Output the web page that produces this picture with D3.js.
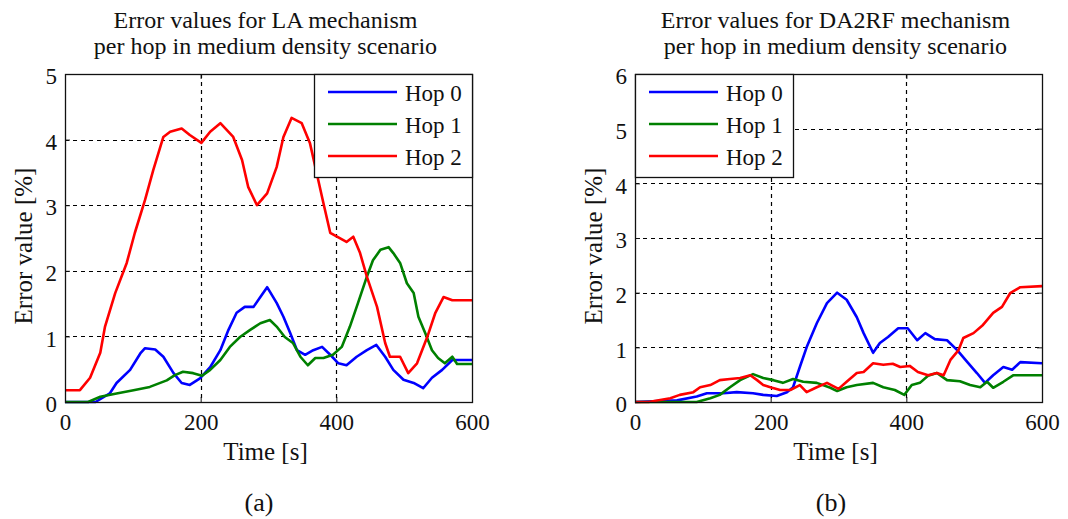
<!DOCTYPE html>
<html>
<head>
<meta charset="utf-8">
<script src="https://cdn.jsdelivr.net/npm/d3@7"></script>
<style>
  html, body { margin: 0; padding: 0; background: #fff; }
  svg { display: block; }
  text { font-family: "Liberation Serif", "Times New Roman", serif; fill: #111; }
</style>
</head>
<body>
<svg id="chart" width="1068" height="519"></svg>
<script>
// ---------- Data ----------
const xTicks = [0, 200, 400, 600];
const seriesNames = ["Hop 0", "Hop 1", "Hop 2"];
const seriesColors = ["#0000ff", "#008000", "#ff0000"];

// Panel (a): LA mechanism
const laTitle = ["Error values for LA mechanism", "per hop in medium density scenario"];
const laYTicks = [0, 1, 2, 3, 4, 5];
const laHop0T = [0,45,66,76,96,111,118,133,145,160,172,184,199,214,229,241,253,265,278,288,298,312,322,332,342,354,366,379,391,403,415,430,445,459,472,484,499,514,528,541,556,571,600];
const laHop0V = [0,0,0.13,0.29,0.49,0.74,0.82,0.8,0.69,0.44,0.29,0.26,0.36,0.53,0.79,1.1,1.36,1.45,1.45,1.6,1.75,1.51,1.3,1.05,0.79,0.72,0.79,0.84,0.72,0.59,0.56,0.69,0.79,0.87,0.69,0.49,0.34,0.29,0.21,0.37,0.49,0.64,0.64];
const laHop1T = [0,34,52,76,101,125,150,162,174,189,202,214,229,243,258,273,288,302,312,324,336,347,358,369,381,395,408,420,432,445,454,465,477,484,494,504,514,521,531,541,550,560,571,578,600];
const laHop1V = [0,0,0.08,0.13,0.18,0.23,0.33,0.41,0.46,0.44,0.4,0.49,0.64,0.84,0.99,1.1,1.2,1.25,1.15,0.99,0.9,0.69,0.56,0.67,0.67,0.72,0.84,1.15,1.51,1.91,2.16,2.32,2.36,2.27,2.12,1.81,1.66,1.3,1.05,0.79,0.67,0.59,0.69,0.58,0.58];
const laHop2T = [0,22,37,52,59,74,91,103,118,130,145,155,172,184,201,214,229,248,261,270,283,298,312,322,334,349,361,371,381,391,401,415,425,435,445,460,472,479,494,506,519,534,546,558,571,600];
const laHop2V = [0.18,0.18,0.37,0.75,1.15,1.66,2.12,2.58,3.08,3.53,4.04,4.12,4.17,4.07,3.95,4.12,4.25,4.04,3.69,3.28,3.0,3.18,3.58,4.04,4.33,4.25,3.95,3.49,3.03,2.58,2.52,2.44,2.52,2.27,1.91,1.45,0.9,0.69,0.69,0.44,0.59,0.99,1.36,1.6,1.55,1.55];

// Panel (b): DA2RF mechanism
const daTitle = ["Error values for DA2RF mechanism", "per hop in medium density scenario"];
const daYTicks = [0, 1, 2, 3, 4, 5, 6];
const daHop0T = [0,62,91,106,130,150,174,189,209,224,233,243,253,268,283,298,312,327,337,351,361,373,388,402,416,428,442,460,475,490,504,516,528,543,556,568,600];
const daHop0V = [0,0.03,0.1,0.16,0.16,0.18,0.16,0.13,0.11,0.18,0.27,0.64,1.0,1.44,1.81,2.0,1.87,1.55,1.26,0.9,1.08,1.19,1.35,1.35,1.13,1.26,1.15,1.13,0.95,0.73,0.53,0.35,0.49,0.64,0.59,0.73,0.71];
const daHop1T = [0,91,111,125,140,155,174,189,204,218,233,248,268,288,298,312,327,351,366,383,397,408,420,432,445,460,479,494,509,519,528,543,558,600];
const daHop1V = [0,0,0.07,0.13,0.27,0.4,0.51,0.44,0.4,0.35,0.42,0.37,0.35,0.26,0.2,0.27,0.31,0.35,0.27,0.22,0.13,0.31,0.35,0.48,0.53,0.4,0.38,0.31,0.27,0.37,0.26,0.37,0.49,0.49];
const daHop2T = [0,20,52,66,86,96,111,125,140,155,170,180,189,202,214,229,243,253,268,283,300,312,327,337,351,366,380,391,405,417,432,445,455,465,477,484,499,513,528,541,553,568,600];
const daHop2V = [0,0,0.07,0.13,0.18,0.27,0.31,0.4,0.42,0.44,0.49,0.4,0.31,0.26,0.22,0.22,0.31,0.18,0.27,0.35,0.24,0.37,0.53,0.55,0.71,0.68,0.7,0.64,0.66,0.55,0.49,0.53,0.49,0.77,0.95,1.17,1.26,1.41,1.63,1.74,1.99,2.1,2.12];

const xLabel = "Time [s]";
const yLabel = "Error value [%]";

// ---------- Drawing ----------
const svg = d3.select("#chart");
const FONT = "'Liberation Serif', 'Times New Roman', serif";

function zip(t, v) { return t.map((d, i) => ({ t: d, v: v[i] })); }

const panels = [
  { left: 65, right: 472, top: 74, bottom: 402, title: laTitle, yTicks: laYTicks,
    series: [zip(laHop0T, laHop0V), zip(laHop1T, laHop1V), zip(laHop2T, laHop2V)],
    legend: "right", yLabelX: 23, caption: "(a)", captionX: 259 },
  { left: 635, right: 1042, top: 74, bottom: 402, title: daTitle, yTicks: daYTicks,
    series: [zip(daHop0T, daHop0V), zip(daHop1T, daHop1V), zip(daHop2T, daHop2V)],
    legend: "left", yLabelX: 593, caption: "(b)", captionX: 831 }
];

panels.forEach(p => {
  const x = d3.scaleLinear().domain([0, 600]).range([p.left, p.right]);
  const yMax = p.yTicks[p.yTicks.length - 1];
  const y = d3.scaleLinear().domain([0, yMax]).range([p.bottom, p.top]);
  const g = svg.append("g");

  // grid
  const grid = g.append("g").attr("stroke", "#000").attr("stroke-width", 1.2)
    .attr("stroke-dasharray", "4,4");
  grid.selectAll("line.h").data(p.yTicks.slice(1, -1)).join("line")
    .attr("x1", p.left).attr("x2", p.right)
    .attr("y1", d => Math.round(y(d)) + 0.5).attr("y2", d => Math.round(y(d)) + 0.5);
  grid.selectAll("line.v").data(xTicks.slice(1, -1)).join("line")
    .attr("y1", p.top).attr("y2", p.bottom)
    .attr("x1", d => Math.round(x(d)) + 0.5).attr("x2", d => Math.round(x(d)) + 0.5);

  // axes (inward ticks)
  const ax = g.append("g").attr("transform", `translate(0,${p.bottom})`)
    .call(d3.axisBottom(x).tickValues(xTicks).tickSize(-5).tickPadding(12).tickFormat(d3.format("d")));
  const ay = g.append("g").attr("transform", `translate(${p.left},0)`)
    .call(d3.axisLeft(y).tickValues(p.yTicks).tickSize(-5).tickPadding(8).tickFormat(d3.format("d")));
  const axT = g.append("g").attr("transform", `translate(0,${p.top})`)
    .call(d3.axisTop(x).tickValues(xTicks).tickSize(-5).tickFormat(""));
  const ayR = g.append("g").attr("transform", `translate(${p.right},0)`)
    .call(d3.axisRight(y).tickValues(p.yTicks).tickSize(-5).tickFormat(""));
  [ax, ay, axT, ayR].forEach(a => {
    a.attr("font-family", null).attr("font-size", null);
    a.select(".domain").remove();
    a.selectAll("line").attr("stroke", "#111");
    a.selectAll("text").attr("fill", "#111")
      .style("font-family", FONT).style("font-size", "23px");
  });
  ay.selectAll("text").attr("dy", "0.42em");

  // lines
  const line = d3.line().x(d => x(d.t)).y(d => y(d.v));
  p.series.forEach((s, i) => {
    g.append("path").datum(s).attr("d", line).attr("fill", "none")
      .attr("stroke", seriesColors[i]).attr("stroke-width", 2.6)
      .attr("stroke-linejoin", "round");
  });

  // frame
  g.append("rect").attr("x", p.left + 0.5).attr("y", p.top + 0.5)
    .attr("width", p.right - p.left).attr("height", p.bottom - p.top)
    .attr("fill", "none").attr("stroke", "#111").attr("stroke-width", 1.3);

  // legend
  const lw = 158, lh = 103;
  const lx = p.legend === "right" ? p.right - lw : p.left;
  const lg = g.append("g").attr("transform", `translate(${lx},${p.top})`);
  lg.append("rect").attr("x", 0.5).attr("y", 0.5).attr("width", lw).attr("height", lh)
    .attr("fill", "#fff").attr("stroke", "#111").attr("stroke-width", 1.3);
  const rows = [18, 50, 82];
  seriesNames.forEach((n, i) => {
    lg.append("line").attr("x1", 14).attr("x2", 83).attr("y1", rows[i]).attr("y2", rows[i])
      .attr("stroke", seriesColors[i]).attr("stroke-width", 2.6);
    lg.append("text").attr("x", 91).attr("y", rows[i]).attr("dy", "0.38em")
      .style("font-size", "23px").text(n);
  });

  // title
  const cx = (p.left + p.right) / 2 - 3;
  g.append("text").attr("x", cx).attr("y", 28).attr("text-anchor", "middle")
    .style("font-size", "24px").text(p.title[0]);
  g.append("text").attr("x", cx).attr("y", 54).attr("text-anchor", "middle")
    .style("font-size", "24px").text(p.title[1]);

  // axis labels
  g.append("text").attr("x", cx).attr("y", 460).attr("text-anchor", "middle")
    .style("font-size", "25px").text(xLabel);
  g.append("text").attr("transform", `translate(${p.yLabelX},246) rotate(-90)`)
    .attr("text-anchor", "middle").attr("dy", "0.35em").style("font-size", "25px").text(yLabel);

  // caption
  g.append("text").attr("x", p.captionX).attr("y", 511).attr("text-anchor", "middle")
    .style("font-size", "26px").text(p.caption);
});
</script>
</body>
</html>
